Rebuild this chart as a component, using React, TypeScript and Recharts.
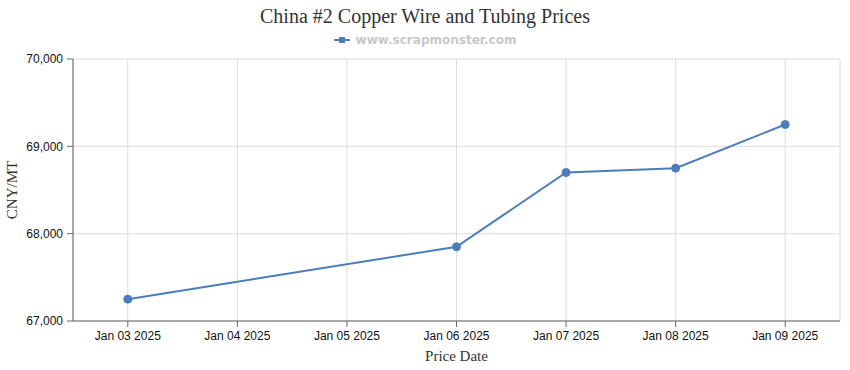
import { CartesianGrid, Legend, Line, LineChart, XAxis, YAxis } from "recharts";

const priceDays = [3, 6, 7, 8, 9];
const prices = [67250, 67850, 68700, 68750, 69250];
const tickDays = [3, 4, 5, 6, 7, 8, 9];
const tickLabels = [
  "Jan 03 2025",
  "Jan 04 2025",
  "Jan 05 2025",
  "Jan 06 2025",
  "Jan 07 2025",
  "Jan 08 2025",
  "Jan 09 2025",
];
const yTicks = [67000, 68000, 69000, 70000];

const data = priceDays.map((day, i) => ({ day, price: prices[i] }));

const LINE = "#4b7dbd";
const SERIF = "'Liberation Serif', 'Times New Roman', serif";
const SANS = "'Liberation Sans', Arial, sans-serif";

function YLabel({ viewBox }: any) {
  const cy = viewBox.y + viewBox.height / 2;
  return (
    <text
      x={17}
      y={cy}
      transform={`rotate(-90, 17, ${cy})`}
      textAnchor="middle"
      fontFamily={SERIF}
      fontSize={15}
      fill="#333"
    >
      CNY/MT
    </text>
  );
}

function LegendBox() {
  return (
    <div
      style={{
        display: "flex",
        justifyContent: "center",
        alignItems: "center",
        gap: 6,
        height: 13,
        fontFamily: "'DejaVu Sans', Verdana, sans-serif",
        fontWeight: "bold",
        fontSize: 12,
        color: "#c8c8c8",
      }}
    >
      <svg width={16} height={8}>
        <line x1={0} y1={4} x2={16} y2={4} stroke={LINE} strokeWidth={2} />
        <rect x={5} y={1} width={6} height={6} fill={LINE} />
      </svg>
      <span>www.scrapmonster.com</span>
    </div>
  );
}

export default function App() {
  return (
    <div style={{ position: "absolute", left: 0, top: 0, width: 850, height: 370, background: "#fff" }}>
      <div
        style={{
          position: "absolute",
          top: 5,
          left: 0,
          width: 850,
          textAlign: "center",
          fontFamily: SERIF,
          fontSize: 20,
          color: "#333",
        }}
      >
        China #2 Copper Wire and Tubing Prices
      </div>
      <LineChart width={850} height={370} data={data} margin={{ top: 46, right: 10, left: 0, bottom: 0 }}>
        <Legend verticalAlign="top" content={() => <LegendBox />} wrapperStyle={{ top: 33, left: 0, width: 850 }} />
        <CartesianGrid stroke="#dcdcdc" />
        <XAxis
          dataKey="day"
          type="number"
          domain={[2.5, 9.5]}
          ticks={tickDays}
          tickFormatter={(d) => tickLabels[tickDays.indexOf(d)]}
          height={49}
          stroke="#666"
          tickSize={6}
          tick={{ fill: "#111", fontSize: 12, fontFamily: SANS }}
          tickMargin={4}
          label={{
            value: "Price Date",
            position: "insideBottom",
            offset: 9,
            fill: "#333",
            fontSize: 15,
            fontFamily: SERIF,
          }}
        />
        <YAxis
          domain={[67000, 70000]}
          ticks={yTicks}
          tickFormatter={(v) => v.toLocaleString("en-US")}
          width={73}
          stroke="#666"
          tickSize={6}
          tickMargin={4}
          tick={{ fill: "#111", fontSize: 12, fontFamily: SANS }}
          label={{ content: (p: any) => <YLabel {...p} /> }}
        />
        <Line
          type="linear"
          dataKey="price"
          stroke={LINE}
          strokeWidth={2}
          dot={{ r: 4, fill: LINE, stroke: LINE, strokeWidth: 1 }}
          isAnimationActive={false}
        />
      </LineChart>
    </div>
  );
}
